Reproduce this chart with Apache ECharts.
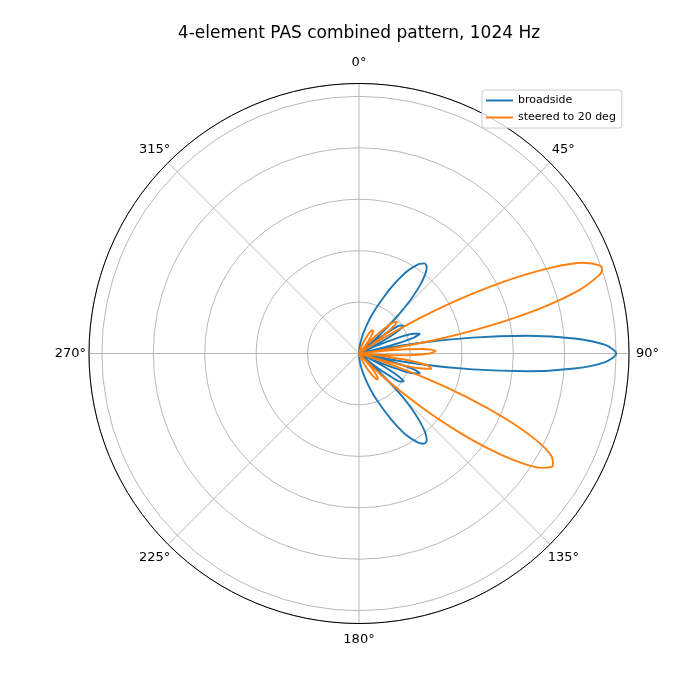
<!DOCTYPE html>
<html>
<head>
<meta charset="utf-8">
<script src="https://cdn.jsdelivr.net/npm/echarts@6/dist/echarts.min.js"></script>
<style>
  html, body { margin: 0; padding: 0; background: #fff; }
  #chart { width: 700px; height: 700px; }
</style>
</head>
<body>
<div id="chart"></div>
<script>
// angles in degrees (0 at top, clockwise), radii normalised to the main lobe
var blueTheta = [0, 2, 4, 6, 8, 10, 12, 14, 16, 18, 20, 22, 24, 26, 28, 30, 32, 34, 36, 38, 40, 42, 44, 46, 48, 50, 50.5,
  52, 54, 56, 58, 60, 62, 64, 64.7, 66, 68, 70, 72, 74, 76, 77.7, 80, 82, 84, 86, 88, 90,
  92, 94, 96, 98, 100, 102.3, 104, 106, 108, 110, 112, 114, 115.3, 116, 118, 120, 122, 124, 126, 128, 129.5,
  130, 132, 134, 136, 138, 140, 142, 144, 146, 148, 150, 152, 154, 156, 158, 160, 162, 164, 166, 168, 170, 172, 174, 176, 178, 180];
var blueR = [0, 0.01, 0.02, 0.03, 0.045, 0.06, 0.08, 0.10, 0.125, 0.15, 0.18, 0.21, 0.245, 0.285, 0.325, 0.365, 0.395, 0.42, 0.433, 0.428, 0.40, 0.35, 0.285, 0.20, 0.11, 0.025, 0,
  0.08, 0.15, 0.195, 0.205, 0.18, 0.12, 0.035, 0, 0.065, 0.16, 0.225, 0.25, 0.22, 0.125, 0, 0.23, 0.445, 0.66, 0.84, 0.958, 1.0,
  0.958, 0.84, 0.66, 0.445, 0.23, 0, 0.125, 0.22, 0.25, 0.225, 0.16, 0.065, 0, 0.035, 0.12, 0.18, 0.205, 0.195, 0.15, 0.08, 0,
  0.025, 0.11, 0.20, 0.285, 0.35, 0.40, 0.428, 0.433, 0.42, 0.395, 0.365, 0.325, 0.285, 0.245, 0.21, 0.18, 0.15, 0.125, 0.10, 0.08, 0.06, 0.045, 0.03, 0.02, 0.01, 0];

var orangeTheta = [0, 4, 8, 10.5, 12, 14, 16, 18, 20, 22, 24, 26, 28, 30, 32, 34, 36, 38, 39.7,
  42, 44, 46, 48, 50, 52, 54, 56, 56.2, 58, 60, 62, 64, 66, 68, 70, 71, 72, 74, 76, 78, 80, 82, 82.6,
  84, 86, 88, 90, 92, 94, 94.9, 96, 98, 100, 102, 104, 106, 107.4,
  108, 110, 112, 114, 116, 118, 120, 122, 124, 126, 128, 130, 132, 134, 136, 136.6,
  138, 140, 142, 144, 146, 148, 150, 152, 154, 156, 158, 160, 180];
var orangeR = [0, 0.001, 0.002, 0, 0.002, 0.007, 0.015, 0.024, 0.036, 0.05, 0.065, 0.085, 0.098, 0.105, 0.103, 0.093, 0.07, 0.037, 0,
  0.055, 0.105, 0.15, 0.183, 0.193, 0.172, 0.113, 0.015, 0, 0.123, 0.291, 0.477, 0.662, 0.824, 0.942, 0.998, 1.0, 0.98, 0.887, 0.727, 0.518, 0.286, 0.064, 0,
  0.122, 0.247, 0.299, 0.276, 0.19, 0.063, 0, 0.076, 0.197, 0.273, 0.288, 0.233, 0.115, 0,
  0.054, 0.249, 0.45, 0.626, 0.764, 0.847, 0.871, 0.839, 0.759, 0.644, 0.509, 0.369, 0.236, 0.119, 0.024, 0,
  0.047, 0.093, 0.117, 0.125, 0.12, 0.105, 0.084, 0.063, 0.043, 0.025, 0.011, 0, 0];

var seriesNames = ['broadside', 'steered to 20 deg'];
var seriesColors = ['#1f77b4', '#ff7f0e'];
var angleTicks = [0, 45, 90, 135, 180, 225, 270, 315];

function pairs(r, t) {
  return r.map(function (v, i) { return [v, t[i]]; });
}

// echarts anchors angle labels by their edge; pad each one so it ends up centred
// on a ring just outside the plot, the way matplotlib places them
var labelPad = {
  0: [0, 0, 17, 0],
  45: [0, 0, 9, 4],
  90: [0, 0, 0, 10],
  135: [9, 0, 0, 0],
  180: [13, 0, 0, 0],
  225: [9, 0, 0, 0],
  270: [0, 6, 0, 0],
  315: [0, 0, 9, 0]
};
var labelRich = {};
angleTicks.forEach(function (t) {
  labelRich['a' + t] = { padding: labelPad[t], fontFamily: 'DejaVu Sans', fontSize: 13, color: '#000' };
});

var chart = echarts.init(document.getElementById('chart'), null, { renderer: 'canvas' });
chart.setOption({
  animation: false,
  backgroundColor: '#fff',
  title: {
    text: '4-element PAS combined pattern, 1024 Hz',
    left: 354,
    textAlign: 'center',
    top: 20,
    textStyle: { fontFamily: 'DejaVu Sans', fontSize: 17, fontWeight: 'normal', color: '#000' }
  },
  legend: {
    data: seriesNames,
    orient: 'vertical',
    left: 482,
    top: 90,
    icon: 'rect',
    itemWidth: 27,
    itemHeight: 2,
    itemGap: 6,
    padding: [5, 6, 5, 4],
    backgroundColor: 'rgba(255,255,255,0.8)',
    borderColor: '#cccccc',
    borderWidth: 1,
    borderRadius: 3,
    textStyle: { fontFamily: 'DejaVu Sans', fontSize: 11, color: '#000' }
  },
  polar: {
    center: [359, 353.5],
    radius: 270
  },
  angleAxis: {
    type: 'value',
    min: 0,
    max: 360,
    interval: 45,
    startAngle: 90,
    clockwise: true,
    axisLine: { show: true, lineStyle: { color: '#000', width: 1 } },
    axisTick: { show: false },
    axisLabel: {
      margin: -3,
      fontFamily: 'DejaVu Sans',
      fontSize: 13,
      color: '#000',
      rich: labelRich,
      formatter: function (v) {
        return angleTicks.indexOf(v) >= 0 ? '{a' + v + '|' + v + '°}' : '';
      }
    },
    splitLine: { show: true, lineStyle: { color: '#b0b0b0', width: 0.9 } }
  },
  radiusAxis: {
    type: 'value',
    min: 0,
    max: 1.05,
    interval: 0.2,
    axisLine: { show: false },
    axisTick: { show: false },
    axisLabel: { show: false },
    splitLine: { show: true, lineStyle: { color: '#b0b0b0', width: 0.9 } }
  },
  series: [
    {
      name: seriesNames[0],
      type: 'line',
      coordinateSystem: 'polar',
      showSymbol: false,
      smooth: 0.3,
      color: seriesColors[0],
      lineStyle: { width: 1.9, color: seriesColors[0] },
      data: pairs(blueR, blueTheta)
    },
    {
      name: seriesNames[1],
      type: 'line',
      coordinateSystem: 'polar',
      showSymbol: false,
      smooth: 0.3,
      color: seriesColors[1],
      lineStyle: { width: 1.9, color: seriesColors[1] },
      data: pairs(orangeR, orangeTheta)
    }
  ]
});
</script>
</body>
</html>
